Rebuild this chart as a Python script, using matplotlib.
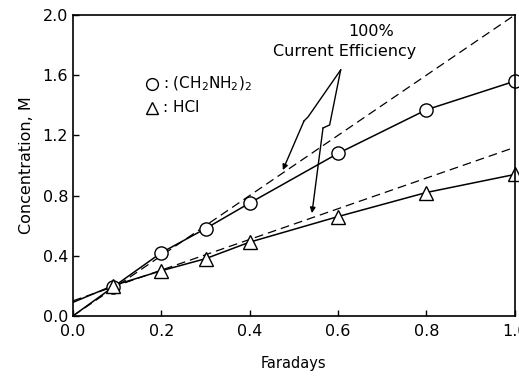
import numpy as np
import matplotlib.pyplot as plt

# ===== data =====
faradays_en = [0.09, 0.2, 0.3, 0.4, 0.6, 0.8, 1.0]
conc_en = [0.19, 0.42, 0.58, 0.75, 1.08, 1.37, 1.56]
faradays_hcl = [0.09, 0.2, 0.3, 0.4, 0.6, 0.8, 1.0]
conc_hcl = [0.20, 0.30, 0.38, 0.49, 0.66, 0.82, 0.94]

# solid curves start from the intercept at F=0
curve_en_x = [0.0] + faradays_en
curve_en_y = [0.0] + conc_en
curve_hcl_x = [0.0] + faradays_hcl
curve_hcl_y = [0.09] + conc_hcl

# 100% current efficiency lines (end points)
ideal_en_x = [0.0, 1.0]
ideal_en_y = [0.0, 2.0]
ideal_hcl_x = [0.0, 1.0]
ideal_hcl_y = [0.10, 1.12]

xticks = [0.0, 0.2, 0.4, 0.6, 0.8, 1.0]
xticklabels = ["0.0", "0.2", "0.4", "0.6", "0.8", "1.0"]
yticks = [0.0, 0.4, 0.8, 1.2, 1.6, 2.0]
yticklabels = ["0.0", "0.4", "0.8", "1.2", "1.6", "2.0"]

plt.rcParams["font.family"] = ["DejaVu Sans"]

fig = plt.figure(figsize=(5.19, 3.76), dpi=100)
ax = fig.add_axes([0.1407, 0.160, 0.851, 0.800])

# dashed ideal lines
ax.plot(ideal_en_x, ideal_en_y, color="black", lw=0.9, ls=(0, (7, 4)))
ax.plot(ideal_hcl_x, ideal_hcl_y, color="black", lw=0.9, ls=(0, (7, 4)))

# measured curves
ax.plot(curve_en_x, curve_en_y, color="black", lw=1.1)
ax.plot(curve_hcl_x, curve_hcl_y, color="black", lw=1.1)
ax.plot(faradays_en, conc_en, "o", ms=9.5, mfc="white", mec="black", mew=1.0, clip_on=False)
ax.plot(faradays_hcl, conc_hcl, "^", ms=9.5, mfc="white", mec="black", mew=1.0, clip_on=False)

# legend-like labels
ax.plot([0.179], [1.54], "o", ms=8.5, mfc="white", mec="black", mew=1.0)
ax.text(0.203, 1.54, r": (CH$_2$NH$_2$)$_2$", fontsize=11, va="center", ha="left")
ax.plot([0.179], [1.385], "^", ms=8.5, mfc="white", mec="black", mew=1.0)
ax.text(0.203, 1.385, ": HCl", fontsize=11, va="center", ha="left")

# annotation text and zigzag arrows
ax.text(0.675, 1.89, "100%", fontsize=11.5, ha="center", va="center")
ax.text(0.615, 1.76, "Current Efficiency", fontsize=11.5, ha="center", va="center")
apex = (0.606, 1.635)
ax.plot([apex[0], 0.532, 0.523], [apex[1], 1.322, 1.296], color="black", lw=1.0)
ax.annotate("", xy=(0.475, 0.969), xytext=(0.523, 1.296),
            arrowprops=dict(arrowstyle="-|>", color="black", lw=1.0,
                            mutation_scale=8, shrinkA=0, shrinkB=0))
ax.plot([apex[0], 0.581, 0.566], [apex[1], 1.269, 1.249], color="black", lw=1.0)
ax.annotate("", xy=(0.541, 0.683), xytext=(0.566, 1.249),
            arrowprops=dict(arrowstyle="-|>", color="black", lw=1.0,
                            mutation_scale=8, shrinkA=0, shrinkB=0))

# axes settings
ax.set_xlim(0, 1.0)
ax.set_ylim(0, 2.0)
ax.set_xticks(xticks)
ax.set_xticklabels(xticklabels)
ax.set_yticks(yticks)
ax.set_yticklabels(yticklabels)
ax.tick_params(direction="in", length=4, labelsize=11.5, width=1.0)
ax.tick_params(axis="x", pad=6)
for sp in ax.spines.values():
    sp.set_linewidth(1.2)
ax.set_xlabel("Faradays", fontsize=10.5, labelpad=12)
ax.set_ylabel("Concentration, M", fontsize=11.5, labelpad=6)

fig.savefig("out.png", dpi=100)
